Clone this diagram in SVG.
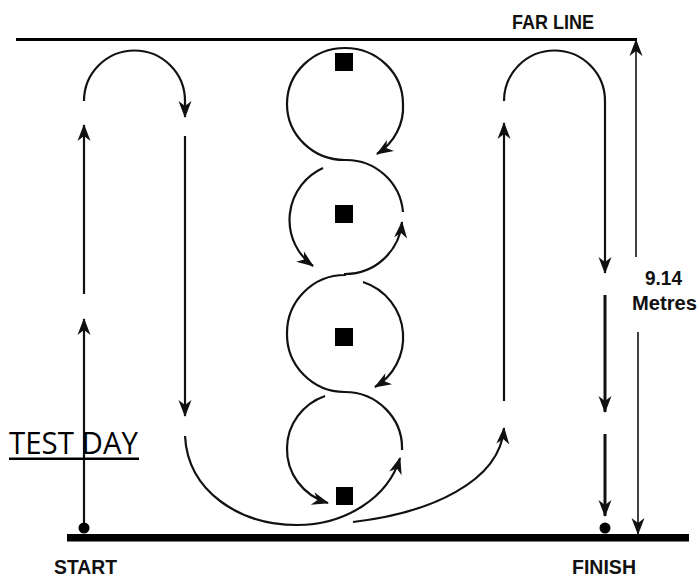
<svg xmlns="http://www.w3.org/2000/svg" width="699" height="578" viewBox="0 0 699 578">
<style>
.p{fill:none;stroke:#111;stroke-width:2.2;stroke-linecap:butt}
.thin{fill:none;stroke:#111;stroke-width:1.6}
.thick{fill:none;stroke:#111;stroke-width:3}
.lbl{font-family:"Liberation Sans",Arial,sans-serif;font-weight:bold;font-size:20.5px;fill:#111}
.cone{fill:#000}
</style>
<defs>
<marker id="ah" markerUnits="userSpaceOnUse" markerWidth="20" markerHeight="16" viewBox="-18 -8 20 16" refX="0" refY="0" orient="auto">
<path d="M1,0 L-16,-6.5 L-11,0 L-16,6.5 Z" fill="#111"/>
</marker>
</defs>
<rect width="699" height="578" fill="#fff"/>
<g id="far-line"><line x1="16" y1="39.5" x2="637" y2="39.5" stroke="#000" stroke-width="3"/></g>
<g id="start-line"><rect x="67" y="534" width="622" height="7.5" fill="#000"/></g>
<g id="cones">
<rect class="cone" x="335" y="53" width="18" height="18"/>
<rect class="cone" x="335" y="205" width="18" height="18"/>
<rect class="cone" x="335" y="328" width="18" height="18"/>
<rect class="cone" x="336" y="487" width="17" height="18"/>
</g>
<g id="connectors">
<path class="p" d="M84,527 L84,319" marker-end="url(#ah)"/>
<path class="p" d="M84,294 L84,125" marker-end="url(#ah)"/>
<path class="p" d="M84,101 A50.5,50.5 0 0 1 185,101 L185,117" marker-end="url(#ah)"/>
<path class="p" d="M185,136 L185,416" marker-end="url(#ah)"/>
<path class="p" d="M185,436 C188,492 240,525 297,525 C345,525 388,498 400,458" marker-end="url(#ah)"/>
<path class="p" d="M402,450 A57.5,56 0 0 0 344.5,392 A58,58 0 0 1 287,333 A58,58 0 0 1 345,275 L345,274 A57,57 0 0 0 402,222" marker-end="url(#ah)"/>
<path class="p" d="M403,212 A57,57 0 0 0 345,160 A58,56 0 0 1 287,104 A58,56 0 0 1 345,48 A58,56 0 0 1 403,104 A58,56 0 0 1 377,154" marker-end="url(#ah)"/>
<path class="p" d="M323,168 A57,57 0 0 0 313,266" marker-end="url(#ah)"/>
<path class="p" d="M363,282 A58,58 0 0 1 403,333 A58,58 0 0 1 375,387" marker-end="url(#ah)"/>
<path class="p" d="M325,396 A57.5,56 0 0 0 287,448 A57.5,56 0 0 0 328,503" marker-end="url(#ah)"/>
<path class="p" d="M353,522 C430,513 500,482 504,428" marker-end="url(#ah)"/>
<path class="p" d="M504,401 L504,123" marker-end="url(#ah)"/>
<path class="p" d="M504,101 A50.5,50.5 0 0 1 605,101 L605,273" marker-end="url(#ah)"/>
<path class="thick" d="M605,295 L605,412" marker-end="url(#ah)"/>
<path class="thick" d="M605,434 L605,516" marker-end="url(#ah)"/>
<path class="thin" d="M636,257 L636,40" marker-end="url(#ah)"/>
<path class="thin" d="M638,332 L638,534" marker-end="url(#ah)"/>
</g>
<g id="start-dot"><circle cx="84" cy="528" r="5.5" fill="#000"/></g>
<g id="finish-dot"><circle cx="605" cy="528" r="5.5" fill="#000"/></g>
<g id="labels">
<text class="lbl" x="512" y="29" textLength="82" lengthAdjust="spacingAndGlyphs">FAR LINE</text>
<text class="lbl" x="645" y="285" textLength="37" lengthAdjust="spacingAndGlyphs">9.14</text>
<text class="lbl" x="632" y="310" textLength="65" lengthAdjust="spacingAndGlyphs">Metres</text>
<text class="lbl" x="54" y="574" textLength="63" lengthAdjust="spacingAndGlyphs">START</text>
<text class="lbl" x="572" y="574" textLength="64" lengthAdjust="spacingAndGlyphs">FINISH</text>
</g>
<g id="test-day">
<text x="9" y="454" font-family="'Open Sans','Liberation Sans',sans-serif" font-size="30.5" fill="#000" textLength="129" lengthAdjust="spacingAndGlyphs">TEST DAY</text>
<rect x="9" y="457.5" width="130" height="2.5" fill="#000"/>
</g>
</svg>
